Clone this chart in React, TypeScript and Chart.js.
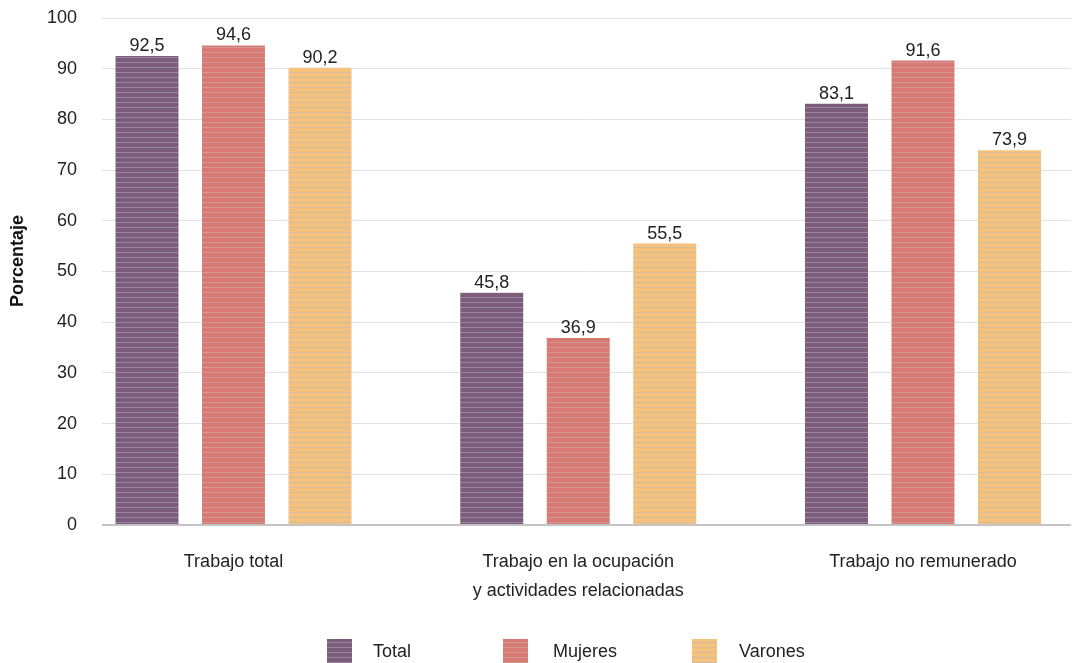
import React, { useEffect, useRef } from "react";
import { Chart, registerables } from "chart.js";

Chart.register(...registerables);

const categories: string[][] = [
  ["Trabajo total"],
  ["Trabajo en la ocupación", "y actividades relacionadas"],
  ["Trabajo no remunerado"],
];
const seriesNames = ["Total", "Mujeres", "Varones"];
const totalValues = [92.5, 45.8, 83.1];
const mujeresValues = [94.6, 36.9, 91.6];
const varonesValues = [90.2, 55.5, 73.9];
const yTicks = [0, 10, 20, 30, 40, 50, 60, 70, 80, 90, 100];
const yTitle = "Porcentaje";

const baseColors = ["#7b5c7a", "#d87a72", "#f5c27d"];
const lineColors = ["rgba(200,195,215,0.4)", "rgba(190,195,210,0.4)", "rgba(165,175,200,0.4)"];

const FONT = "'Liberation Sans', Arial, sans-serif";

function makePattern(base: string, line: string): CanvasPattern | string {
  const c = document.createElement("canvas");
  c.width = 24;
  c.height = 5;
  const ctx = c.getContext("2d");
  if (!ctx) return base;
  ctx.fillStyle = base;
  ctx.fillRect(0, 0, 24, 5);
  ctx.strokeStyle = line;
  ctx.lineWidth = 1;
  ctx.beginPath();
  ctx.moveTo(0, 2.5);
  ctx.lineTo(24, 2.5);
  ctx.stroke();
  const p = ctx.createPattern(c, "repeat");
  return p || base;
}

export default function App() {
  const ref = useRef<HTMLCanvasElement | null>(null);

  useEffect(() => {
    if (!ref.current) return;
    const patterns = baseColors.map((b, i) => makePattern(b, lineColors[i]));
    const seriesValues = [totalValues, mujeresValues, varonesValues];

    const dataLabels = {
      id: "dataLabels",
      afterDatasetsDraw(chart: any) {
        const ctx = chart.ctx;
        ctx.save();
        ctx.font = `18px ${FONT}`;
        ctx.fillStyle = "#222";
        ctx.textAlign = "center";
        ctx.textBaseline = "alphabetic";
        chart.data.datasets.forEach((ds: any, di: number) => {
          const meta = chart.getDatasetMeta(di);
          meta.data.forEach((el: any, i: number) => {
            const v = seriesValues[di][i];
            ctx.fillText(v.toFixed(1).replace(".", ","), el.x, el.y - 5);
          });
        });
        ctx.restore();
      },
    };

    const extras = {
      id: "extras",
      afterDraw(chart: any) {
        const ctx = chart.ctx;
        ctx.save();
        ctx.translate(18, 261);
        ctx.rotate(-Math.PI / 2);
        ctx.font = `bold 18px ${FONT}`;
        ctx.fillStyle = "#111";
        ctx.textAlign = "center";
        ctx.textBaseline = "middle";
        ctx.fillText(yTitle, 0, 0);
        ctx.restore();

        ctx.save();
        const boxX = [327, 503, 692];
        const textX = [373, 553, 739];
        ctx.font = `18px ${FONT}`;
        ctx.textBaseline = "middle";
        ctx.textAlign = "left";
        seriesNames.forEach((name, i) => {
          ctx.fillStyle = patterns[i];
          ctx.fillRect(boxX[i], 639, 25, 24);
          ctx.fillStyle = "#222";
          ctx.fillText(name, textX[i], 652);
        });
        ctx.restore();
      },
    };

    const chart = new Chart(ref.current, {
      type: "bar",
      data: {
        datasets: seriesNames.map((name, di) => ({
          label: name,
          data: seriesValues[di].map((v, i) => ({ x: i, y: v })),
          backgroundColor: patterns[di] as any,
          borderWidth: 0,
          categoryPercentage: 0.7527,
          barPercentage: 0.728,
        })),
      },
      options: {
        animation: false,
        responsive: false,
        layout: { padding: { top: 18, right: 1, left: 0, bottom: 0 } },
        plugins: {
          legend: { display: false },
          tooltip: { enabled: false },
        },
        scales: {
          x: {
            type: "linear",
            offset: false,
            bounds: "data",
            min: -0.3814,
            max: 2.4293,
            grid: { display: false, offset: false },
            border: { display: false },
            afterBuildTicks: (scale: any) => {
              scale.ticks = categories.map((_, i) => ({ value: i }));
            },
            afterFit: (scale: any) => {
              scale.height = 138;
            },
            ticks: {
              autoSkip: false,
              maxRotation: 0,
              minRotation: 0,
              padding: 15,
              color: "#222",
              font: { family: FONT, size: 18, lineHeight: 1.6 },
              callback: (value: any) => categories[Math.round(Number(value))] ?? "",
            },
          },
          y: {
            min: 0,
            max: 100,
            afterBuildTicks: (scale: any) => {
              scale.ticks = yTicks.map((v) => ({ value: v }));
            },
            afterFit: (scale: any) => {
              scale.width = 102;
              scale.paddingTop = 0;
              scale.paddingBottom = 0;
            },
            border: { display: false },
            grid: {
              drawTicks: false,
              color: (c: any) => (c.tick && c.tick.value === 0 ? "#c4c4c4" : "#e2e2e2"),
              lineWidth: (c: any) => (c.tick && c.tick.value === 0 ? 2 : 1),
            },
            ticks: {
              padding: 25,
              color: "#222",
              font: { family: FONT, size: 18 },
            },
          },
        },
      },
      plugins: [dataLabels, extras],
    });
    return () => chart.destroy();
  }, []);

  return (
    <div style={{ position: "fixed", left: 0, top: 0, width: 1072, height: 663, background: "#fff" }}>
      <canvas ref={ref} width={1072} height={663} style={{ display: "block" }} />
    </div>
  );
}
